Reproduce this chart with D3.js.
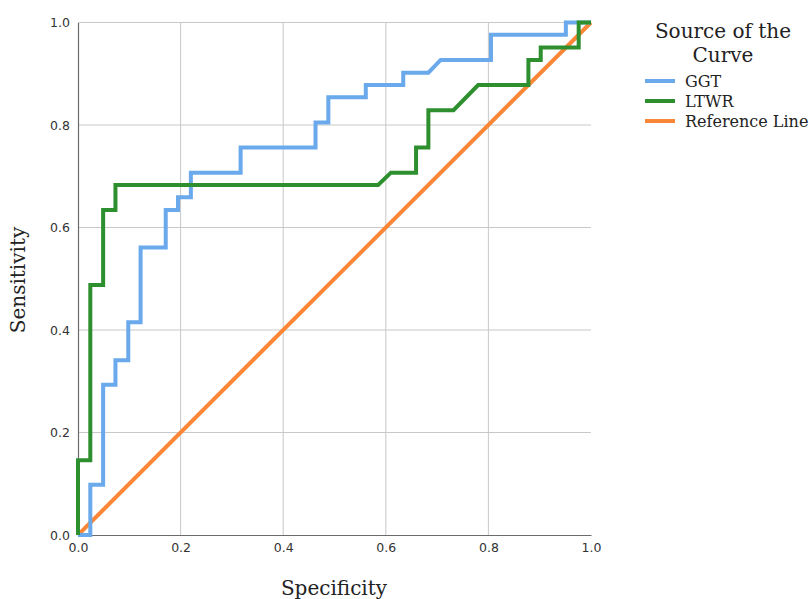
<!DOCTYPE html>
<html>
<head>
<meta charset="utf-8">
<script src="https://cdn.jsdelivr.net/npm/d3@7"></script>
<style>
  body { margin: 0; background: #fff; }
  svg { display: block; }
</style>
</head>
<body>
<svg width="809" height="599"></svg>
<script>
// ROC curve steps
var ggtX = [0, 0.024, 0.024, 0.049, 0.049, 0.073, 0.073, 0.098, 0.098, 0.122, 0.122, 0.171, 0.171, 0.195, 0.195, 0.22, 0.22, 0.317, 0.317, 0.463, 0.463, 0.488, 0.488, 0.561, 0.561, 0.634, 0.634, 0.683, 0.707, 0.805, 0.805, 0.951, 0.951, 1];
var ggtY = [0, 0, 0.098, 0.098, 0.293, 0.293, 0.341, 0.341, 0.415, 0.415, 0.561, 0.561, 0.634, 0.634, 0.659, 0.659, 0.707, 0.707, 0.756, 0.756, 0.805, 0.805, 0.854, 0.854, 0.878, 0.878, 0.902, 0.902, 0.927, 0.927, 0.976, 0.976, 1, 1];
var ltwrX = [0, 0, 0.024, 0.024, 0.049, 0.049, 0.073, 0.073, 0.585, 0.61, 0.659, 0.659, 0.683, 0.683, 0.732, 0.78, 0.878, 0.878, 0.902, 0.902, 0.976, 0.976, 1];
var ltwrY = [0, 0.146, 0.146, 0.488, 0.488, 0.634, 0.634, 0.683, 0.683, 0.707, 0.707, 0.756, 0.756, 0.829, 0.829, 0.878, 0.878, 0.927, 0.927, 0.951, 0.951, 1, 1];
var refX = [0, 1];
var refY = [0, 1];
var seriesNames = ["GGT", "LTWR", "Reference Line"];
var seriesColors = ["#6aa9ec", "#2e8f2e", "#fa8637"];
var ticks = [0, 0.2, 0.4, 0.6, 0.8, 1.0];

var svg = d3.select("svg");
var x = d3.scaleLinear().domain([0, 1]).range([78, 591]);
var y = d3.scaleLinear().domain([0, 1]).range([535, 22.5]);

// grid
svg.append("g").selectAll("line.h").data(ticks.slice(1)).enter().append("line")
  .attr("x1", x(0)).attr("x2", x(1))
  .attr("y1", function(d) { return y(d); }).attr("y2", function(d) { return y(d); })
  .attr("stroke", "#c8c8c8").attr("stroke-width", 1);
svg.append("g").selectAll("line.v").data(ticks.slice(1, 5)).enter().append("line")
  .attr("y1", y(0)).attr("y2", y(1))
  .attr("x1", function(d) { return x(d); }).attr("x2", function(d) { return x(d); })
  .attr("stroke", "#c8c8c8").attr("stroke-width", 1);

// axes
var xaxis = d3.axisBottom(x).tickValues(ticks).tickFormat(d3.format(".1f")).tickSize(0).tickPadding(8);
var yaxis = d3.axisLeft(y).tickValues(ticks).tickFormat(d3.format(".1f")).tickSize(0).tickPadding(8);
var gx = svg.append("g").attr("transform", "translate(0," + y(0) + ")").call(xaxis);
var gy = svg.append("g").attr("transform", "translate(" + x(0) + ",0)").call(yaxis);
[gx, gy].forEach(function(g) {
  g.select(".domain").attr("stroke", "#6b6b6b").attr("stroke-width", 1.2);
  g.selectAll("text").attr("font-family", "DejaVu Sans").attr("font-size", 12.5).attr("fill", "#333");
});

// curves
var line = d3.line().x(function(d) { return x(d[0]); }).y(function(d) { return y(d[1]); });
var curves = [d3.zip(ggtX, ggtY), d3.zip(ltwrX, ltwrY), d3.zip(refX, refY)];
var order = [2, 0, 1];
order.forEach(function(i) {
  svg.append("path").datum(curves[i]).attr("d", line)
    .attr("fill", "none").attr("stroke", seriesColors[i])
    .attr("stroke-width", 4).attr("stroke-linejoin", "miter");
});

// axis titles
svg.append("text").attr("x", 334).attr("y", 595).attr("text-anchor", "middle")
  .attr("font-family", "DejaVu Serif").attr("font-size", 20).attr("fill", "#222").text("Specificity");
svg.append("text").attr("transform", "translate(25,280) rotate(-90)").attr("text-anchor", "middle")
  .attr("font-family", "DejaVu Serif").attr("font-size", 20).attr("fill", "#222").text("Sensitivity");

// legend
var lg = svg.append("g");
lg.append("text").attr("x", 723).attr("y", 38).attr("text-anchor", "middle")
  .attr("font-family", "DejaVu Serif").attr("font-size", 20).attr("fill", "#222").text("Source of the");
lg.append("text").attr("x", 723).attr("y", 62).attr("text-anchor", "middle")
  .attr("font-family", "DejaVu Serif").attr("font-size", 20).attr("fill", "#222").text("Curve");
var items = lg.selectAll("g.item").data(seriesNames).enter().append("g")
  .attr("transform", function(d, i) { return "translate(0," + (81 + i * 20) + ")"; });
items.append("line").attr("x1", 645).attr("x2", 675)
  .attr("stroke", function(d, i) { return seriesColors[i]; }).attr("stroke-width", 4);
items.append("text").attr("x", 685).attr("y", 5.5)
  .attr("font-family", "DejaVu Serif").attr("font-size", 16).attr("fill", "#222")
  .text(function(d) { return d; });
</script>
</body>
</html>
